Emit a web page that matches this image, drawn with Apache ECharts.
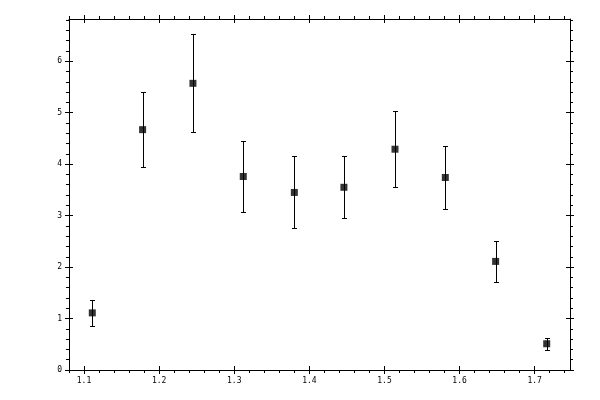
<!DOCTYPE html>
<html>
<head>
<meta charset="utf-8">
<script src="https://cdn.jsdelivr.net/npm/echarts@6/dist/echarts.min.js"></script>
<style>html,body{margin:0;padding:0;background:#fff}#c{width:600px;height:400px}</style>
</head>
<body>
<div id="c"></div>
<script>
var xValues = [1.111, 1.178, 1.245, 1.312, 1.380, 1.446, 1.514, 1.581, 1.648, 1.716];
var yValues = [1.11, 4.67, 5.57, 3.76, 3.45, 3.55, 4.29, 3.74, 2.11, 0.51];
var yErrors = [0.25, 0.73, 0.95, 0.69, 0.70, 0.60, 0.74, 0.62, 0.40, 0.12];
var xTickLabels = [1.1, 1.2, 1.3, 1.4, 1.5, 1.6, 1.7];
var yTickLabels = [0, 1, 2, 3, 4, 5, 6];

var X_MIN = 1.08, X_MAX = 1.747, Y_MIN = 0, Y_MAX = 6.82;

function minorTicks(lo, hi, step, majors) {
  var out = [];
  var n = Math.round((hi - lo) / step);
  for (var i = 0; i <= n; i++) {
    var v = Math.round((lo + i * step) * 1000) / 1000;
    if (v < lo - 1e-9 || v > hi + 1e-9) continue;
    var isMajor = majors.some(function (m) { return Math.abs(m - v) < 1e-6; });
    if (!isMajor) out.push(v);
  }
  return out;
}
var xMinor = minorTicks(1.08, 1.74, 0.02, xTickLabels);
var yMinor = minorTicks(0, 6.8, 0.2, yTickLabels);

var font = { fontFamily: 'DejaVu Sans Mono', fontSize: 8, color: '#000' };

function mkAxis(pos, min, max, opts) {
  return Object.assign({
    type: 'value', position: pos, min: min, max: max, gridIndex: 0,
    splitLine: { show: false },
    axisLine: { show: false, onZero: false },
    axisTick: { show: false },
    axisLabel: { show: false },
    axisPointer: { show: false }
  }, opts);
}
function axesFor(pos, min, max, majors, minors, withLabels) {
  var tickStyle = { color: '#000', width: 1 };
  var list = [];
  list.push(mkAxis(pos, min, max, {
    axisLine: { show: true, onZero: false, lineStyle: { color: '#000', width: 1 } },
    axisTick: { show: true, inside: false, length: 4, customValues: majors, lineStyle: tickStyle },
    axisLabel: withLabels ? Object.assign({ show: true, margin: 7, customValues: majors,
      formatter: function (v) { return pos === 'bottom' ? v.toFixed(1) : String(Math.round(v)); } }, font) : { show: false }
  }));
  list.push(mkAxis(pos, min, max, {
    axisTick: { show: true, inside: true, length: 4, customValues: majors, lineStyle: tickStyle }
  }));
  list.push(mkAxis(pos, min, max, {
    axisTick: { show: true, inside: false, length: 3, customValues: minors, lineStyle: tickStyle }
  }));
  return list;
}

var xAxes = axesFor('bottom', X_MIN, X_MAX, xTickLabels, xMinor, true)
  .concat(axesFor('top', X_MIN, X_MAX, xTickLabels, xMinor, false));
var yAxes = axesFor('left', Y_MIN, Y_MAX, yTickLabels, yMinor, true)
  .concat(axesFor('right', Y_MIN, Y_MAX, yTickLabels, yMinor, false));

var errData = xValues.map(function (x, i) {
  return [x, yValues[i] - yErrors[i], yValues[i] + yErrors[i]];
});
var ptData = xValues.map(function (x, i) { return [x, yValues[i]]; });

var chart = echarts.init(document.getElementById('c'), null, { renderer: 'canvas' });
chart.setOption({
  backgroundColor: '#fff',
  animation: false,
  grid: { left: 69, right: 30, top: 19, bottom: 30, containLabel: false },
  xAxis: xAxes,
  yAxis: yAxes,
  series: [
    {
      type: 'custom',
      xAxisIndex: 0, yAxisIndex: 0,
      data: errData,
      renderItem: function (params, api) {
        var lo = api.coord([api.value(0), api.value(1)]);
        var hi = api.coord([api.value(0), api.value(2)]);
        var x = Math.round(lo[0]) + 0.5;
        var y1 = Math.round(lo[1]) + 0.5, y2 = Math.round(hi[1]) + 0.5;
        var hw = 2.5;
        var st = { stroke: '#000', lineWidth: 1 };
        return {
          type: 'group',
          children: [
            { type: 'line', shape: { x1: x, y1: y1, x2: x, y2: y2 }, style: st },
            { type: 'line', shape: { x1: x - hw, y1: y1, x2: x + hw, y2: y1 }, style: st },
            { type: 'line', shape: { x1: x - hw, y1: y2, x2: x + hw, y2: y2 }, style: st }
          ]
        };
      },
      z: 2
    },
    {
      type: 'scatter',
      xAxisIndex: 0, yAxisIndex: 0,
      data: ptData,
      symbol: 'rect',
      symbolSize: 7,
      itemStyle: { color: '#000' },
      z: 3
    }
  ]
});
</script>
</body>
</html>
